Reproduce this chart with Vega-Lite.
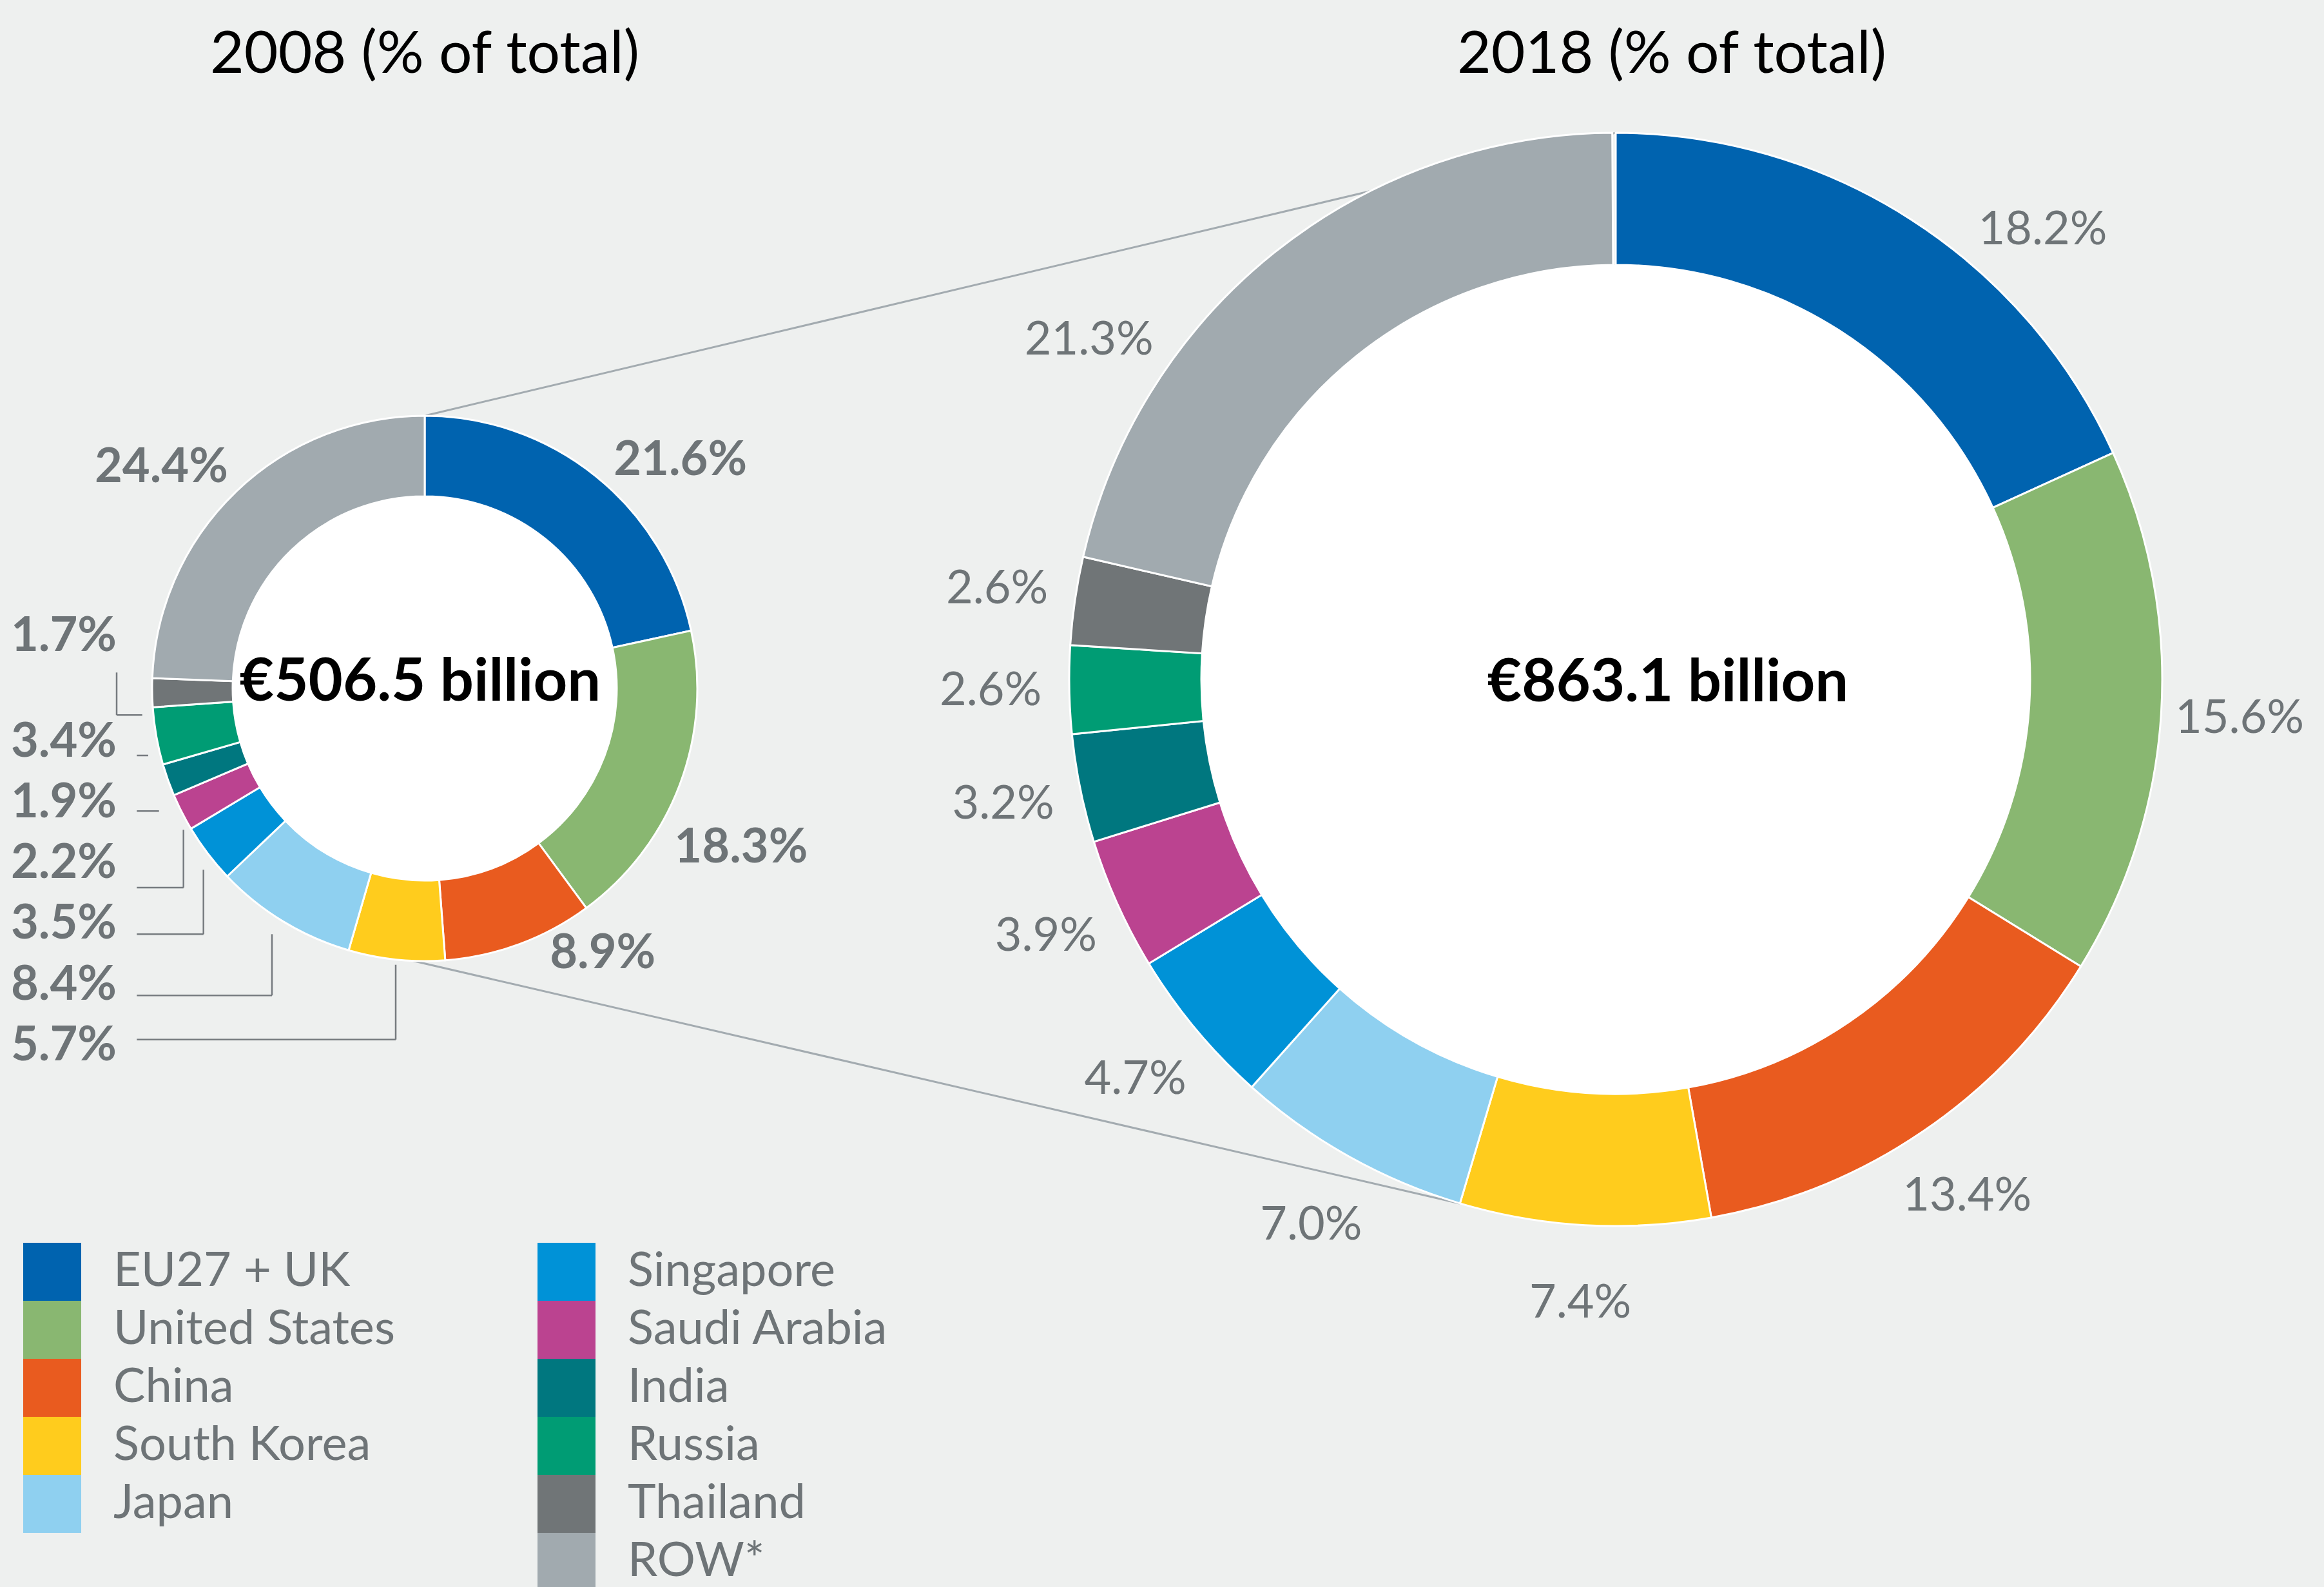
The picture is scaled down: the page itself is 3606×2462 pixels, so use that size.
{
"$schema": "https://vega.github.io/schema/vega-lite/v6.json",
"width": 3606, "height": 2462, "autosize": "none", "padding": 0,
"background": "#EEF0EF",
"config": {"view": {"stroke": null}, "text": {"font": "Lato"},
  "locale": {"number": {"decimal": ".", "thousands": ",", "grouping": [3], "currency": ["€", " billion"]}}},
"datasets": {
  "shares": [
    {"year": 2008, "country": "EU27 + UK", "share": 0.216},
    {"year": 2008, "country": "United States", "share": 0.183},
    {"year": 2008, "country": "China", "share": 0.089},
    {"year": 2008, "country": "South Korea", "share": 0.057},
    {"year": 2008, "country": "Japan", "share": 0.084},
    {"year": 2008, "country": "Singapore", "share": 0.035},
    {"year": 2008, "country": "Saudi Arabia", "share": 0.022},
    {"year": 2008, "country": "India", "share": 0.019},
    {"year": 2008, "country": "Russia", "share": 0.034},
    {"year": 2008, "country": "Thailand", "share": 0.017},
    {"year": 2008, "country": "ROW*", "share": 0.244},
    {"year": 2018, "country": "EU27 + UK", "share": 0.182},
    {"year": 2018, "country": "United States", "share": 0.156},
    {"year": 2018, "country": "China", "share": 0.134},
    {"year": 2018, "country": "South Korea", "share": 0.074},
    {"year": 2018, "country": "Japan", "share": 0.070},
    {"year": 2018, "country": "Singapore", "share": 0.047},
    {"year": 2018, "country": "Saudi Arabia", "share": 0.039},
    {"year": 2018, "country": "India", "share": 0.032},
    {"year": 2018, "country": "Russia", "share": 0.026},
    {"year": 2018, "country": "Thailand", "share": 0.026},
    {"year": 2018, "country": "ROW*", "share": 0.213}
  ],
  "totals": [{"year": 2008, "total": 506.5}, {"year": 2018, "total": 863.1}],
  "titles": [{"year": 2008, "title": "2008 (% of total)"}, {"year": 2018, "title": "2018 (% of total)"}],
  "links": [{"from": 2008, "to": 2018}]
},
"data": {"name": "shares"},
"transform": [{"window": [{"op": "row_number", "as": "i"}], "groupby": ["year"]}],
"resolve": {"scale": {"y": "independent"}},
"layer": [
  {"layer": [
    {"data": {"name": "links"},
     "mark": {"type": "rule", "color": "#A3ABB0", "strokeWidth": 3, "yOffset": -423, "y2Offset": -848},
     "encoding": {
       "x": {"field": "from", "type": "quantitative", "scale": {"domain": [2008, 2018], "range": [659, 2507]}, "axis": null},
       "x2": {"field": "to"},
       "y": {"field": "from", "type": "quantitative", "scale": {"domain": [2008, 2018], "range": [1068, 1054]}, "axis": null},
       "y2": {"field": "to"}}},
    {"data": {"name": "links"},
     "mark": {"type": "rule", "color": "#A3ABB0", "strokeWidth": 3, "xOffset": -25, "yOffset": 421, "x2Offset": -242, "y2Offset": 813},
     "encoding": {
       "x": {"field": "from", "type": "quantitative", "scale": {"domain": [2008, 2018], "range": [659, 2507]}, "axis": null},
       "x2": {"field": "to"},
       "y": {"field": "from", "type": "quantitative", "scale": {"domain": [2008, 2018], "range": [1068, 1054]}, "axis": null},
       "y2": {"field": "to"}}},
    {"data": {"name": "totals"}, "transform": [{"filter": "datum.year === 2008"}],
     "encoding": {
       "x": {"field": "year", "type": "quantitative", "scale": {"domain": [2008, 2018], "range": [659, 2507]}, "axis": null},
       "y": {"field": "year", "type": "quantitative", "scale": {"domain": [2008, 2018], "range": [1068, 1054]}, "axis": null},
       "x2": {"field": "year"},
       "y2": {"field": "year"}},
     "layer": [
       {"mark": {"type": "rule", "color": "#767B7F", "strokeWidth": 2.5, "xOffset": -478, "yOffset": -24.7, "x2Offset": -478, "y2Offset": 41.3}},
       {"mark": {"type": "rule", "color": "#767B7F", "strokeWidth": 2.5, "xOffset": -478, "yOffset": 41.3, "x2Offset": -438.3, "y2Offset": 41.3}},
       {"mark": {"type": "rule", "color": "#767B7F", "strokeWidth": 2.5, "xOffset": -446.7, "yOffset": 104, "x2Offset": -429, "y2Offset": 104}},
       {"mark": {"type": "rule", "color": "#767B7F", "strokeWidth": 2.5, "xOffset": -446.7, "yOffset": 190.3, "x2Offset": -412.3, "y2Offset": 190.3}},
       {"mark": {"type": "rule", "color": "#767B7F", "strokeWidth": 2.5, "xOffset": -446.7, "yOffset": 309, "x2Offset": -374.3, "y2Offset": 309}},
       {"mark": {"type": "rule", "color": "#767B7F", "strokeWidth": 2.5, "xOffset": -374.3, "yOffset": 219.3, "x2Offset": -374.3, "y2Offset": 309}},
       {"mark": {"type": "rule", "color": "#767B7F", "strokeWidth": 2.5, "xOffset": -446.7, "yOffset": 381.3, "x2Offset": -343.3, "y2Offset": 381.3}},
       {"mark": {"type": "rule", "color": "#767B7F", "strokeWidth": 2.5, "xOffset": -343.3, "yOffset": 281.3, "x2Offset": -343.3, "y2Offset": 381.3}},
       {"mark": {"type": "rule", "color": "#767B7F", "strokeWidth": 2.5, "xOffset": -446.7, "yOffset": 476.3, "x2Offset": -237, "y2Offset": 476.3}},
       {"mark": {"type": "rule", "color": "#767B7F", "strokeWidth": 2.5, "xOffset": -237, "yOffset": 381.3, "x2Offset": -237, "y2Offset": 476.3}},
       {"mark": {"type": "rule", "color": "#767B7F", "strokeWidth": 2.5, "xOffset": -446.7, "yOffset": 544.7, "x2Offset": -45, "y2Offset": 544.7}},
       {"mark": {"type": "rule", "color": "#767B7F", "strokeWidth": 2.5, "xOffset": -45, "yOffset": 428.7, "x2Offset": -45, "y2Offset": 544.7}}
     ]},
    {"data": {"name": "totals"}, "transform": [{"filter": "datum.year === 2008"}],
     "mark": {"type": "arc", "theta": 0, "theta2": 6.2832, "outerRadius": 298, "innerRadius": 0, "fill": "white"},
     "encoding": {
       "x": {"field": "year", "type": "quantitative", "scale": {"domain": [2008, 2018], "range": [659, 2507]}, "axis": null},
       "y": {"field": "year", "type": "quantitative", "scale": {"domain": [2008, 2018], "range": [1068, 1054]}, "axis": null}}},
    {"data": {"name": "totals"}, "transform": [{"filter": "datum.year === 2018"}],
     "mark": {"type": "arc", "theta": 0, "theta2": 6.2832, "outerRadius": 643, "innerRadius": 0, "fill": "white"},
     "encoding": {
       "x": {"field": "year", "type": "quantitative", "scale": {"domain": [2008, 2018], "range": [659, 2507]}, "axis": null},
       "y": {"field": "year", "type": "quantitative", "scale": {"domain": [2008, 2018], "range": [1068, 1054]}, "axis": null}}},
    {"transform": [{"filter": "datum.year === 2008"}],
     "encoding": {
       "x": {"field": "year", "type": "quantitative", "scale": {"domain": [2008, 2018], "range": [659, 2507]}, "axis": null},
       "y": {"field": "year", "type": "quantitative", "scale": {"domain": [2008, 2018], "range": [1068, 1054]}, "axis": null},
       "theta": {"field": "share", "type": "quantitative", "stack": true, "scale": {"domain": [0, 1]}},
       "order": {"field": "i", "type": "quantitative"},
       "detail": {"field": "country", "type": "nominal"}},
     "layer": [
       {"mark": {"type": "arc", "outerRadius": 423, "innerRadius": 298, "stroke": "white", "strokeWidth": 3},
        "encoding": {"color": {"field": "country", "type": "nominal",
          "scale": {"domain": ["EU27 + UK", "United States", "China", "South Korea", "Japan", " ", "Singapore", "Saudi Arabia", "India", "Russia", "Thailand", "ROW*"],
                    "range": ["#0063AF", "#89B771", "#E95B1F", "#FFCC1D", "#8FD0F0", "transparent", "#0092D7", "#BB4390", "#00777F", "#009C74", "#707577", "#A1AAAF"]},
          "legend": {"orient": "none", "legendX": 36, "legendY": 1928, "columns": 2, "title": null, "symbolType": "square", "symbolSize": 8100, "symbolStrokeWidth": 0, "symbolOpacity": 1, "labelFont": "Lato", "labelFontSize": 74, "labelColor": "#6E7477", "labelOffset": 50, "rowPadding": 0, "columnPadding": 221, "labelLimit": 1000, "padding": 0}}}},
       {"mark": {"type": "text", "radius": 530, "dx": 64, "dy": 60, "font": "Lato", "fontSize": 74, "fontWeight": "bold", "color": "#6E7477", "align": "center", "baseline": "middle"},
        "encoding": {"text": {"condition": {"test": "datum.country === 'EU27 + UK'", "field": "share", "type": "quantitative", "format": ".1%"}, "value": ""}}},
       {"mark": {"type": "text", "radius": 530, "dx": -5, "dy": 61, "font": "Lato", "fontSize": 74, "fontWeight": "bold", "color": "#6E7477", "align": "center", "baseline": "middle"},
        "encoding": {"text": {"condition": {"test": "datum.country === 'United States'", "field": "share", "type": "quantitative", "format": ".1%"}, "value": ""}}},
       {"mark": {"type": "text", "radius": 530, "dx": 92, "dy": -85, "font": "Lato", "fontSize": 74, "fontWeight": "bold", "color": "#6E7477", "align": "center", "baseline": "middle"},
        "encoding": {"text": {"condition": {"test": "datum.country === 'China'", "field": "share", "type": "quantitative", "format": ".1%"}, "value": ""}}},
       {"mark": {"type": "text", "radius": 530, "dx": -41, "dy": 40, "font": "Lato", "fontSize": 74, "fontWeight": "bold", "color": "#6E7477", "align": "center", "baseline": "middle"},
        "encoding": {"text": {"condition": {"test": "datum.country === 'ROW*'", "field": "share", "type": "quantitative", "format": ".1%"}, "value": ""}}}
     ]},
    {"transform": [{"filter": "datum.year === 2018"}],
     "encoding": {
       "x": {"field": "year", "type": "quantitative", "scale": {"domain": [2008, 2018], "range": [659, 2507]}, "axis": null},
       "y": {"field": "year", "type": "quantitative", "scale": {"domain": [2008, 2018], "range": [1068, 1054]}, "axis": null},
       "theta": {"field": "share", "type": "quantitative", "stack": true, "scale": {"domain": [0, 1]}},
       "order": {"field": "i", "type": "quantitative"},
       "detail": {"field": "country", "type": "nominal"}},
     "layer": [
       {"mark": {"type": "arc", "outerRadius": 848, "innerRadius": 643, "stroke": "white", "strokeWidth": 3},
        "encoding": {"color": {"field": "country", "type": "nominal",
          "scale": {"domain": ["EU27 + UK", "United States", "China", "South Korea", "Japan", " ", "Singapore", "Saudi Arabia", "India", "Russia", "Thailand", "ROW*"],
                    "range": ["#0063AF", "#89B771", "#E95B1F", "#FFCC1D", "#8FD0F0", "transparent", "#0092D7", "#BB4390", "#00777F", "#009C74", "#707577", "#A1AAAF"]},
          "legend": {"orient": "none", "legendX": 36, "legendY": 1928, "columns": 2, "title": null, "symbolType": "square", "symbolSize": 8100, "symbolStrokeWidth": 0, "symbolOpacity": 1, "labelFont": "Lato", "labelFontSize": 74, "labelColor": "#6E7477", "labelOffset": 50, "rowPadding": 0, "columnPadding": 221, "labelLimit": 1000, "padding": 0}}}},
       {"mark": {"type": "text", "radius": 970, "font": "Lato", "fontSize": 72, "color": "#6E7477", "align": "center", "baseline": "middle"},
        "encoding": {"text": {"condition": {"test": "datum.country !== 'EU27 + UK' && datum.country !== 'ROW*'", "field": "share", "type": "quantitative", "format": ".1%"}, "value": ""}}},
       {"mark": {"type": "text", "radius": 960, "dx": 143, "dy": 110, "font": "Lato", "fontSize": 72, "color": "#6E7477", "align": "center", "baseline": "middle"},
        "encoding": {"text": {"condition": {"test": "datum.country === 'EU27 + UK'", "field": "share", "type": "quantitative", "format": ".1%"}, "value": ""}}},
       {"mark": {"type": "text", "radius": 960, "dx": -217, "dy": 223, "font": "Lato", "fontSize": 72, "color": "#6E7477", "align": "center", "baseline": "middle"},
        "encoding": {"text": {"condition": {"test": "datum.country === 'ROW*'", "field": "share", "type": "quantitative", "format": ".1%"}, "value": ""}}}
     ]},
    {"data": {"name": "totals"}, "transform": [{"filter": "datum.year === 2008"}],
     "mark": {"type": "text", "font": "Lato", "fontSize": 92, "fontWeight": "bold", "color": "black", "align": "center", "baseline": "alphabetic", "dx": -7, "dy": 19},
     "encoding": {
       "x": {"field": "year", "type": "quantitative", "scale": {"domain": [2008, 2018], "range": [659, 2507]}, "axis": null},
       "y": {"field": "year", "type": "quantitative", "scale": {"domain": [2008, 2018], "range": [1068, 1054]}, "axis": null},
       "text": {"field": "total", "type": "quantitative", "format": "$.1f"}}},
    {"data": {"name": "totals"}, "transform": [{"filter": "datum.year === 2018"}],
     "mark": {"type": "text", "font": "Lato", "fontSize": 92, "fontWeight": "bold", "color": "black", "align": "center", "baseline": "alphabetic", "dx": 81, "dy": 34},
     "encoding": {
       "x": {"field": "year", "type": "quantitative", "scale": {"domain": [2008, 2018], "range": [659, 2507]}, "axis": null},
       "y": {"field": "year", "type": "quantitative", "scale": {"domain": [2008, 2018], "range": [1068, 1054]}, "axis": null},
       "text": {"field": "total", "type": "quantitative", "format": "$.1f"}}},
    {"data": {"name": "titles"}, "transform": [{"filter": "datum.year === 2008"}],
     "mark": {"type": "text", "font": "Lato", "fontSize": 91, "color": "black", "align": "center", "baseline": "alphabetic", "dy": -955},
     "encoding": {
       "x": {"field": "year", "type": "quantitative", "scale": {"domain": [2008, 2018], "range": [659, 2507]}, "axis": null},
       "y": {"field": "year", "type": "quantitative", "scale": {"domain": [2008, 2018], "range": [1068, 1054]}, "axis": null},
       "text": {"field": "title", "type": "nominal"}}},
    {"data": {"name": "titles"}, "transform": [{"filter": "datum.year === 2018"}],
     "mark": {"type": "text", "font": "Lato", "fontSize": 91, "color": "black", "align": "center", "baseline": "alphabetic", "dx": 87, "dy": -941},
     "encoding": {
       "x": {"field": "year", "type": "quantitative", "scale": {"domain": [2008, 2018], "range": [659, 2507]}, "axis": null},
       "y": {"field": "year", "type": "quantitative", "scale": {"domain": [2008, 2018], "range": [1068, 1054]}, "axis": null},
       "text": {"field": "title", "type": "nominal"}}}
  ]},
  {"transform": [{"filter": "datum.year === 2008"}, {"filter": {"field": "country", "oneOf": ["Thailand", "Russia", "India", "Saudi Arabia", "Singapore", "Japan", "South Korea"]}}],
   "encoding": {
     "x": {"datum": 2008, "type": "quantitative", "scale": {"domain": [2008, 2018], "range": [659, 2507]}, "axis": null},
     "y": {"field": "country", "type": "nominal", "scale": {"type": "point", "domain": ["Thailand", "Russia", "India", "Saudi Arabia", "Singapore", "Japan", "South Korea"], "range": [1057.5, 1622.7], "padding": 0}, "axis": null},
     "text": {"field": "share", "type": "quantitative", "format": ".1%"}},
   "layer": [
     {"transform": [{"filter": "datum.country !== 'Thailand'"}],
      "mark": {"type": "text", "align": "right", "baseline": "middle", "dx": -478, "font": "Lato", "fontSize": 74, "fontWeight": "bold", "color": "#6E7477"}},
     {"transform": [{"filter": "datum.country === 'Thailand'"}],
      "mark": {"type": "text", "align": "right", "baseline": "middle", "dx": -478, "dy": -70, "font": "Lato", "fontSize": 74, "fontWeight": "bold", "color": "#6E7477"}}
   ]}
]
}
